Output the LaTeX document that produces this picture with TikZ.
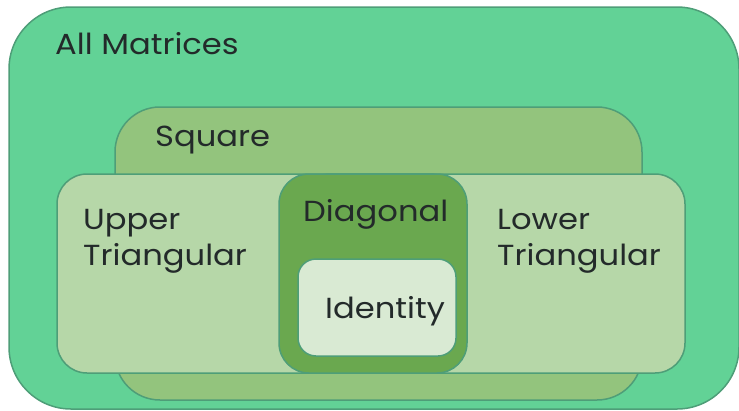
\documentclass[tikz,border=0pt]{standalone}
\usepackage{fontspec}
\setmainfont[FakeStretch=1.11]{Poppins}
\definecolor{allfill}{HTML}{62D296}
\definecolor{sqfill}{HTML}{93C47D}
\definecolor{trifill}{HTML}{B6D7A8}
\definecolor{diagfill}{HTML}{6AA84F}
\definecolor{idfill}{HTML}{D9EAD3}
\definecolor{edge}{HTML}{4E9E78}
\definecolor{ink}{HTML}{232A2A}
\begin{document}
\begin{tikzpicture}[x=1pt,y=-1pt,
  setbox/.style={draw=edge, line width=1.5pt, inner sep=0pt, outer sep=0pt, rectangle},
  lbl/.style={anchor=base west, inner sep=0pt, text=ink, font=\fontsize{29}{35}\selectfont}]
\useasboundingbox (0,0) rectangle (739,410);
% nested sets
\node[setbox, fill=allfill, rounded corners=62pt, minimum width=730pt, minimum height=402pt] (all) at (374,208) {};
\node[setbox, fill=sqfill, rounded corners=45pt, minimum width=527pt, minimum height=293pt] (square) at (378.5,253.5) {};
\node[setbox, fill=trifill, rounded corners=30pt, minimum width=403pt, minimum height=199pt] (upper) at (258.5,273.5) {};
\node[setbox, fill=trifill, rounded corners=30pt, minimum width=385pt, minimum height=199pt] (lower) at (492.5,273.5) {};
\node[setbox, fill=diagfill, rounded corners=30pt, minimum width=188pt, minimum height=199pt] (diag) at (373,273.5) {};
\node[setbox, fill=idfill, rounded corners=18pt, minimum width=158pt, minimum height=97pt] (ident) at (377,307.5) {};
% labels
\node[lbl] (tall) at (55,54) {All Matrices};
\node[lbl] (tsq) at (155,146) {Square};
\node[lbl] (tup1) at (83,229) {Upper};
\node[lbl] (tup2) at (83,265) {Triangular};
\node[lbl] (tdiag) at (303,221) {Diagonal};
\node[lbl] (tlo1) at (497,229) {Lower};
\node[lbl] (tlo2) at (497,265) {Triangular};
\node[lbl] (tid) at (325,318) {Identity};
\end{tikzpicture}
\end{document}
